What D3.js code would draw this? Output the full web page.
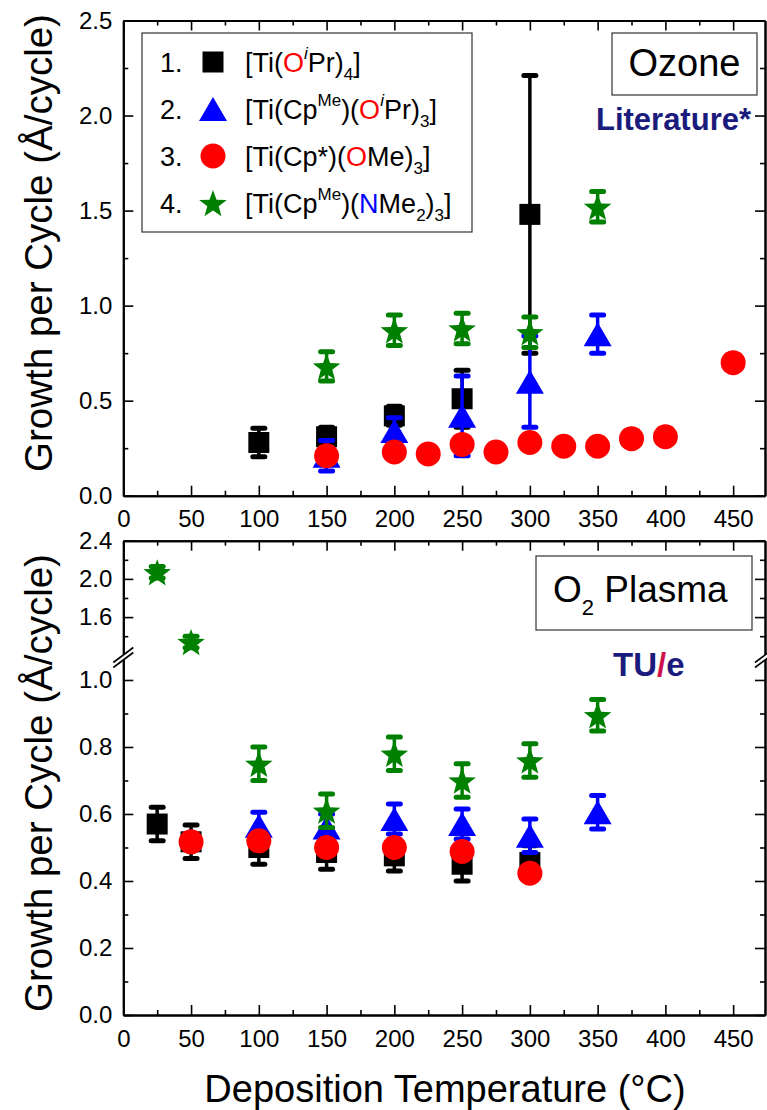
<!DOCTYPE html>
<html>
<head>
<meta charset="UTF-8">
<script src="https://d3js.org/d3.v7.min.js"></script>
<style>
  body { margin: 0; background: #fff; }
  text { font-family: "Liberation Sans", Arial, sans-serif; }
</style>
</head>
<body>
<svg id="chart" width="767" height="1110"></svg>
<script>
// ---- data ----
// Ozone panel
const ozT1 = [100, 150, 200, 250, 300];
const ozV1 = [0.28, 0.31, 0.42, 0.51, 1.48];
const ozE1 = [0.075, 0.05, 0.05, 0.15, 0.73];
const ozT2 = [150, 200, 250, 300, 350];
const ozV2 = [0.21, 0.34, 0.42, 0.60, 0.85];
const ozE2 = [0.08, 0.07, 0.21, 0.24, 0.10];
const ozT3 = [150, 200, 225, 250, 275, 300, 325, 350, 375, 400, 450];
const ozV3 = [0.21, 0.23, 0.22, 0.27, 0.23, 0.28, 0.26, 0.26, 0.30, 0.31, 0.70];
const ozE3 = [0, 0, 0, 0, 0, 0, 0, 0, 0, 0, 0];
const ozT4 = [150, 200, 250, 300, 350];
const ozV4 = [0.68, 0.87, 0.88, 0.86, 1.52];
const ozE4 = [0.077, 0.08, 0.08, 0.08, 0.08];

// O2 plasma panel
const plT1 = [25, 50, 100, 150, 200, 250, 300];
const plV1 = [0.57, 0.517, 0.50, 0.485, 0.475, 0.45, 0.455];
const plE1 = [0.05, 0.05, 0.05, 0.05, 0.045, 0.05, 0.05];
const plT2 = [100, 150, 200, 250, 300, 350];
const plV2 = [0.565, 0.56, 0.585, 0.57, 0.535, 0.605];
const plE2 = [0.04, 0.04, 0.045, 0.045, 0.05, 0.05];
const plT3 = [50, 100, 150, 200, 250, 300];
const plV3 = [0.517, 0.52, 0.50, 0.50, 0.488, 0.423];
const plE3 = [0, 0, 0, 0, 0, 0];
const plT4 = [25, 50, 100, 150, 200, 250, 300, 350];
const plV4 = [2.07, 1.34, 0.75, 0.61, 0.78, 0.70, 0.76, 0.895];
const plE4 = [0.06, 0.06, 0.05, 0.05, 0.05, 0.05, 0.05, 0.047];

// ticks
const xMajor = [0, 50, 100, 150, 200, 250, 300, 350, 400, 450];
const xMinor = [25, 75, 125, 175, 225, 275, 325, 375, 425];
const yTopMajor = [0, 0.5, 1.0, 1.5, 2.0, 2.5];
const yTopMinor = [0.25, 0.75, 1.25, 1.75, 2.25];
const yLowMajor = [0, 0.2, 0.4, 0.6, 0.8, 1.0];
const yLowMinor = [0.1, 0.3, 0.5, 0.7, 0.9];
const yUpMajor = [1.6, 2.0, 2.4];
const yUpMinor = [1.4, 1.8, 2.2];

// legend
const legendNums = ["1.", "2.", "3.", "4."];
const legendNames = [
  [{t: "[Ti("}, {t: "O", c: "#ff0000"}, {t: "i", s: "sup", it: 1}, {t: "Pr)"}, {t: "4", s: "sub"}, {t: "]"}],
  [{t: "[Ti(Cp"}, {t: "Me", s: "sup"}, {t: ")("}, {t: "O", c: "#ff0000"}, {t: "i", s: "sup", it: 1}, {t: "Pr)"}, {t: "3", s: "sub"}, {t: "]"}],
  [{t: "[Ti(Cp*)("}, {t: "O", c: "#ff0000"}, {t: "Me)"}, {t: "3", s: "sub"}, {t: "]"}],
  [{t: "[Ti(Cp"}, {t: "Me", s: "sup"}, {t: ")("}, {t: "N", c: "#0000ff"}, {t: "Me"}, {t: "2", s: "sub"}, {t: ")"}, {t: "3", s: "sub"}, {t: "]"}]
];

// ---- styles ----
const colors = ["#000000", "#0000ff", "#ff0000", "#008000"];
const kinds = ["square", "triangle", "circle", "star"];
const FONT = '"Liberation Sans", Arial, sans-serif';
const NAVY = "#1b1b7d";

const svg = d3.select("#chart");
svg.append("rect").attr("width", 767).attr("height", 1110).attr("fill", "#fff");

const x = d3.scaleLinear().domain([0, 473.5]).range([123.3, 765]);
const yTop = d3.scaleLinear().domain([0, 2.5]).range([495.7, 20.5]);
const yLow = d3.scaleLinear().domain([0, 1.065]).range([1015, 658.2]);
const yUp = d3.scaleLinear().domain([1.18, 2.4]).range([657.2, 540.7]);
const yBot = v => v > 1.12 ? yUp(v) : yLow(v);

function markerPath(kind) {
  if (kind === "square") return "M-10.5,-10.5h21v21h-21Z";
  if (kind === "triangle") return "M0,-12L14,12L-14,12Z";
  if (kind === "circle") return d3.symbol(d3.symbolCircle, Math.PI * 12.5 * 12.5)();
  const pts = d3.range(10).map(i => {
    const a = -Math.PI / 2 + i * Math.PI / 5, r = i % 2 ? 6 : 14.5;
    return [r * Math.cos(a), r * Math.sin(a) + 1.5];
  });
  return "M" + pts.join("L") + "Z";
}

function drawSeries(g, T, V, E, yScale, i) {
  const pts = T.map((t, k) => ({t, v: V[k], e: E[k]}));
  const col = colors[i];
  const eb = g.append("g").attr("stroke", col);
  pts.filter(d => d.e > 0).forEach(d => {
    const cx = x(d.t), y1 = yScale(d.v - d.e), y2 = yScale(d.v + d.e);
    eb.append("line").attr("x1", cx).attr("x2", cx).attr("y1", y1).attr("y2", y2).attr("stroke-width", 3.5);
    [y1, y2].forEach(yy => eb.append("line").attr("x1", cx - 6).attr("x2", cx + 6)
      .attr("y1", yy).attr("y2", yy).attr("stroke-width", 5).attr("stroke-linecap", "round"));
  });
  g.selectAll(null).data(pts).enter().append("path")
    .attr("d", markerPath(kinds[i]))
    .attr("transform", d => `translate(${x(d.t)},${yScale(d.v)})`)
    .attr("fill", col);
}

function axis(gen, tr) {
  const a = svg.append("g").attr("transform", tr).call(gen);
  a.attr("font-size", 24).attr("font-family", FONT);
  a.select(".domain").attr("stroke-width", 2);
  a.selectAll(".tick line").attr("stroke-width", 1.6);
  return a;
}

function xAxes(y0, y1) {
  axis(d3.axisBottom(x).tickValues(xMajor).tickSizeInner(-10).tickSizeOuter(0).tickPadding(14.5).tickFormat(d3.format("d")), `translate(0,${y0})`);
  axis(d3.axisBottom(x).tickValues(xMinor).tickSizeInner(-5).tickSizeOuter(0).tickFormat(""), `translate(0,${y0})`);
  axis(d3.axisTop(x).tickValues(xMajor).tickSizeInner(-10).tickSizeOuter(0).tickFormat(""), `translate(0,${y1})`);
  axis(d3.axisTop(x).tickValues(xMinor).tickSizeInner(-5).tickSizeOuter(0).tickFormat(""), `translate(0,${y1})`);
}

function yAxes(scale, major, minor) {
  const x0 = x.range()[0], x1 = x.range()[1];
  axis(d3.axisLeft(scale).tickValues(major).tickSizeInner(-10).tickSizeOuter(0).tickPadding(11).tickFormat(d3.format(".1f")), `translate(${x0},0)`);
  axis(d3.axisLeft(scale).tickValues(minor).tickSizeInner(-5).tickSizeOuter(0).tickFormat(""), `translate(${x0},0)`);
  axis(d3.axisRight(scale).tickValues(major).tickSizeInner(-10).tickSizeOuter(0).tickFormat(""), `translate(${x1},0)`);
  axis(d3.axisRight(scale).tickValues(minor).tickSizeInner(-5).tickSizeOuter(0).tickFormat(""), `translate(${x1},0)`);
}

// ---- top panel: Ozone ----
xAxes(yTop(0), yTop(2.5));
yAxes(yTop, yTopMajor, yTopMinor);

// ---- bottom panel: O2 plasma (broken axis) ----
xAxes(yLow(0), yUp(2.4));
yAxes(yLow, yLowMajor, yLowMinor);
yAxes(yUp, yUpMajor, yUpMinor);

function breakMark(xc, yc) {
  const g = svg.append("g");
  g.append("path").attr("d", `M${xc - 10},${yc + 8.5}L${xc + 10},${yc - 6.5}L${xc + 10},${yc - 11.5}L${xc - 10},${yc + 3.5}Z`)
    .attr("fill", "#fff");
  [[8.5, -6.5], [3.5, -11.5]].forEach(([a, b]) => g.append("line")
    .attr("x1", xc - 10).attr("y1", yc + a).attr("x2", xc + 10).attr("y2", yc + b)
    .attr("stroke", "#000").attr("stroke-width", 1.6));
}
breakMark(x.range()[0], 659);
breakMark(x.range()[1], 659);

// ---- legend box ----
svg.append("rect").attr("x", 142).attr("y", 33).attr("width", 330).attr("height", 199)
  .attr("fill", "#fff").attr("stroke", "#333").attr("stroke-width", 1.2);

// ---- data ----
const gTop = svg.append("g");
[[ozT1, ozV1, ozE1], [ozT2, ozV2, ozE2], [ozT3, ozV3, ozE3], [ozT4, ozV4, ozE4]]
  .forEach((s, i) => drawSeries(gTop, s[0], s[1], s[2], yTop, i));
const gBot = svg.append("g");
[[plT1, plV1, plE1], [plT2, plV2, plE2], [plT3, plV3, plE3], [plT4, plV4, plE4]]
  .forEach((s, i) => drawSeries(gBot, s[0], s[1], s[2], yBot, i));

// legend rows
const rowY = [62, 109, 156, 203];
legendNames.forEach((segs, i) => {
  const cy = rowY[i];
  svg.append("text").attr("x", 160).attr("y", cy + 9.5).attr("font-size", 27).text(legendNums[i]);
  svg.append("path").attr("d", markerPath(kinds[i])).attr("transform", `translate(213,${cy})`).attr("fill", colors[i]);
  const t = svg.append("text").attr("x", 245).attr("y", cy + 9.5).attr("font-size", 27);
  let cur = 0;
  segs.forEach(s => {
    const off = s.s === "sup" ? -12.5 : s.s === "sub" ? 8 : 0;
    const sp = t.append("tspan").attr("dy", off - cur).text(s.t);
    cur = off;
    if (s.s) sp.attr("font-size", 17);
    if (s.c) sp.attr("fill", s.c);
    if (s.it) sp.attr("font-style", "italic");
  });
});

// ---- panel labels ----
svg.append("rect").attr("x", 612).attr("y", 33).attr("width", 145).attr("height", 62)
  .attr("fill", "#fff").attr("stroke", "#333").attr("stroke-width", 1.2);
svg.append("text").attr("x", 684.5).attr("y", 76).attr("text-anchor", "middle").attr("font-size", 38).text("Ozone");
svg.append("text").attr("x", 751).attr("y", 130).attr("text-anchor", "end").attr("font-size", 31)
  .attr("font-weight", "bold").attr("fill", NAVY).text("Literature*");

svg.append("rect").attr("x", 536).attr("y", 556).attr("width", 216).attr("height", 74)
  .attr("fill", "#fff").attr("stroke", "#333").attr("stroke-width", 1.2);
const pl = svg.append("text").attr("x", 553).attr("y", 602).attr("font-size", 37);
pl.append("tspan").text("O");
pl.append("tspan").attr("dy", 13).attr("font-size", 22).text("2");
pl.append("tspan").attr("dy", -13).text(" Plasma");

const tu = svg.append("text").attr("x", 613).attr("y", 676).attr("font-size", 33).attr("font-weight", "bold").attr("fill", NAVY);
tu.append("tspan").text("TU");
tu.append("tspan").attr("fill", "#d0104c").text("/");
tu.append("tspan").text("e");

// ---- axis titles ----
[243, 783].forEach(cy => svg.append("text")
  .attr("transform", `translate(52,${cy}) rotate(-90)`)
  .attr("text-anchor", "middle").attr("font-size", 38.5)
  .text("Growth per Cycle (Å/cycle)"));
svg.append("text").attr("x", 445).attr("y", 1102).attr("text-anchor", "middle").attr("font-size", 38)
  .text("Deposition Temperature (°C)");
</script>
</body>
</html>
